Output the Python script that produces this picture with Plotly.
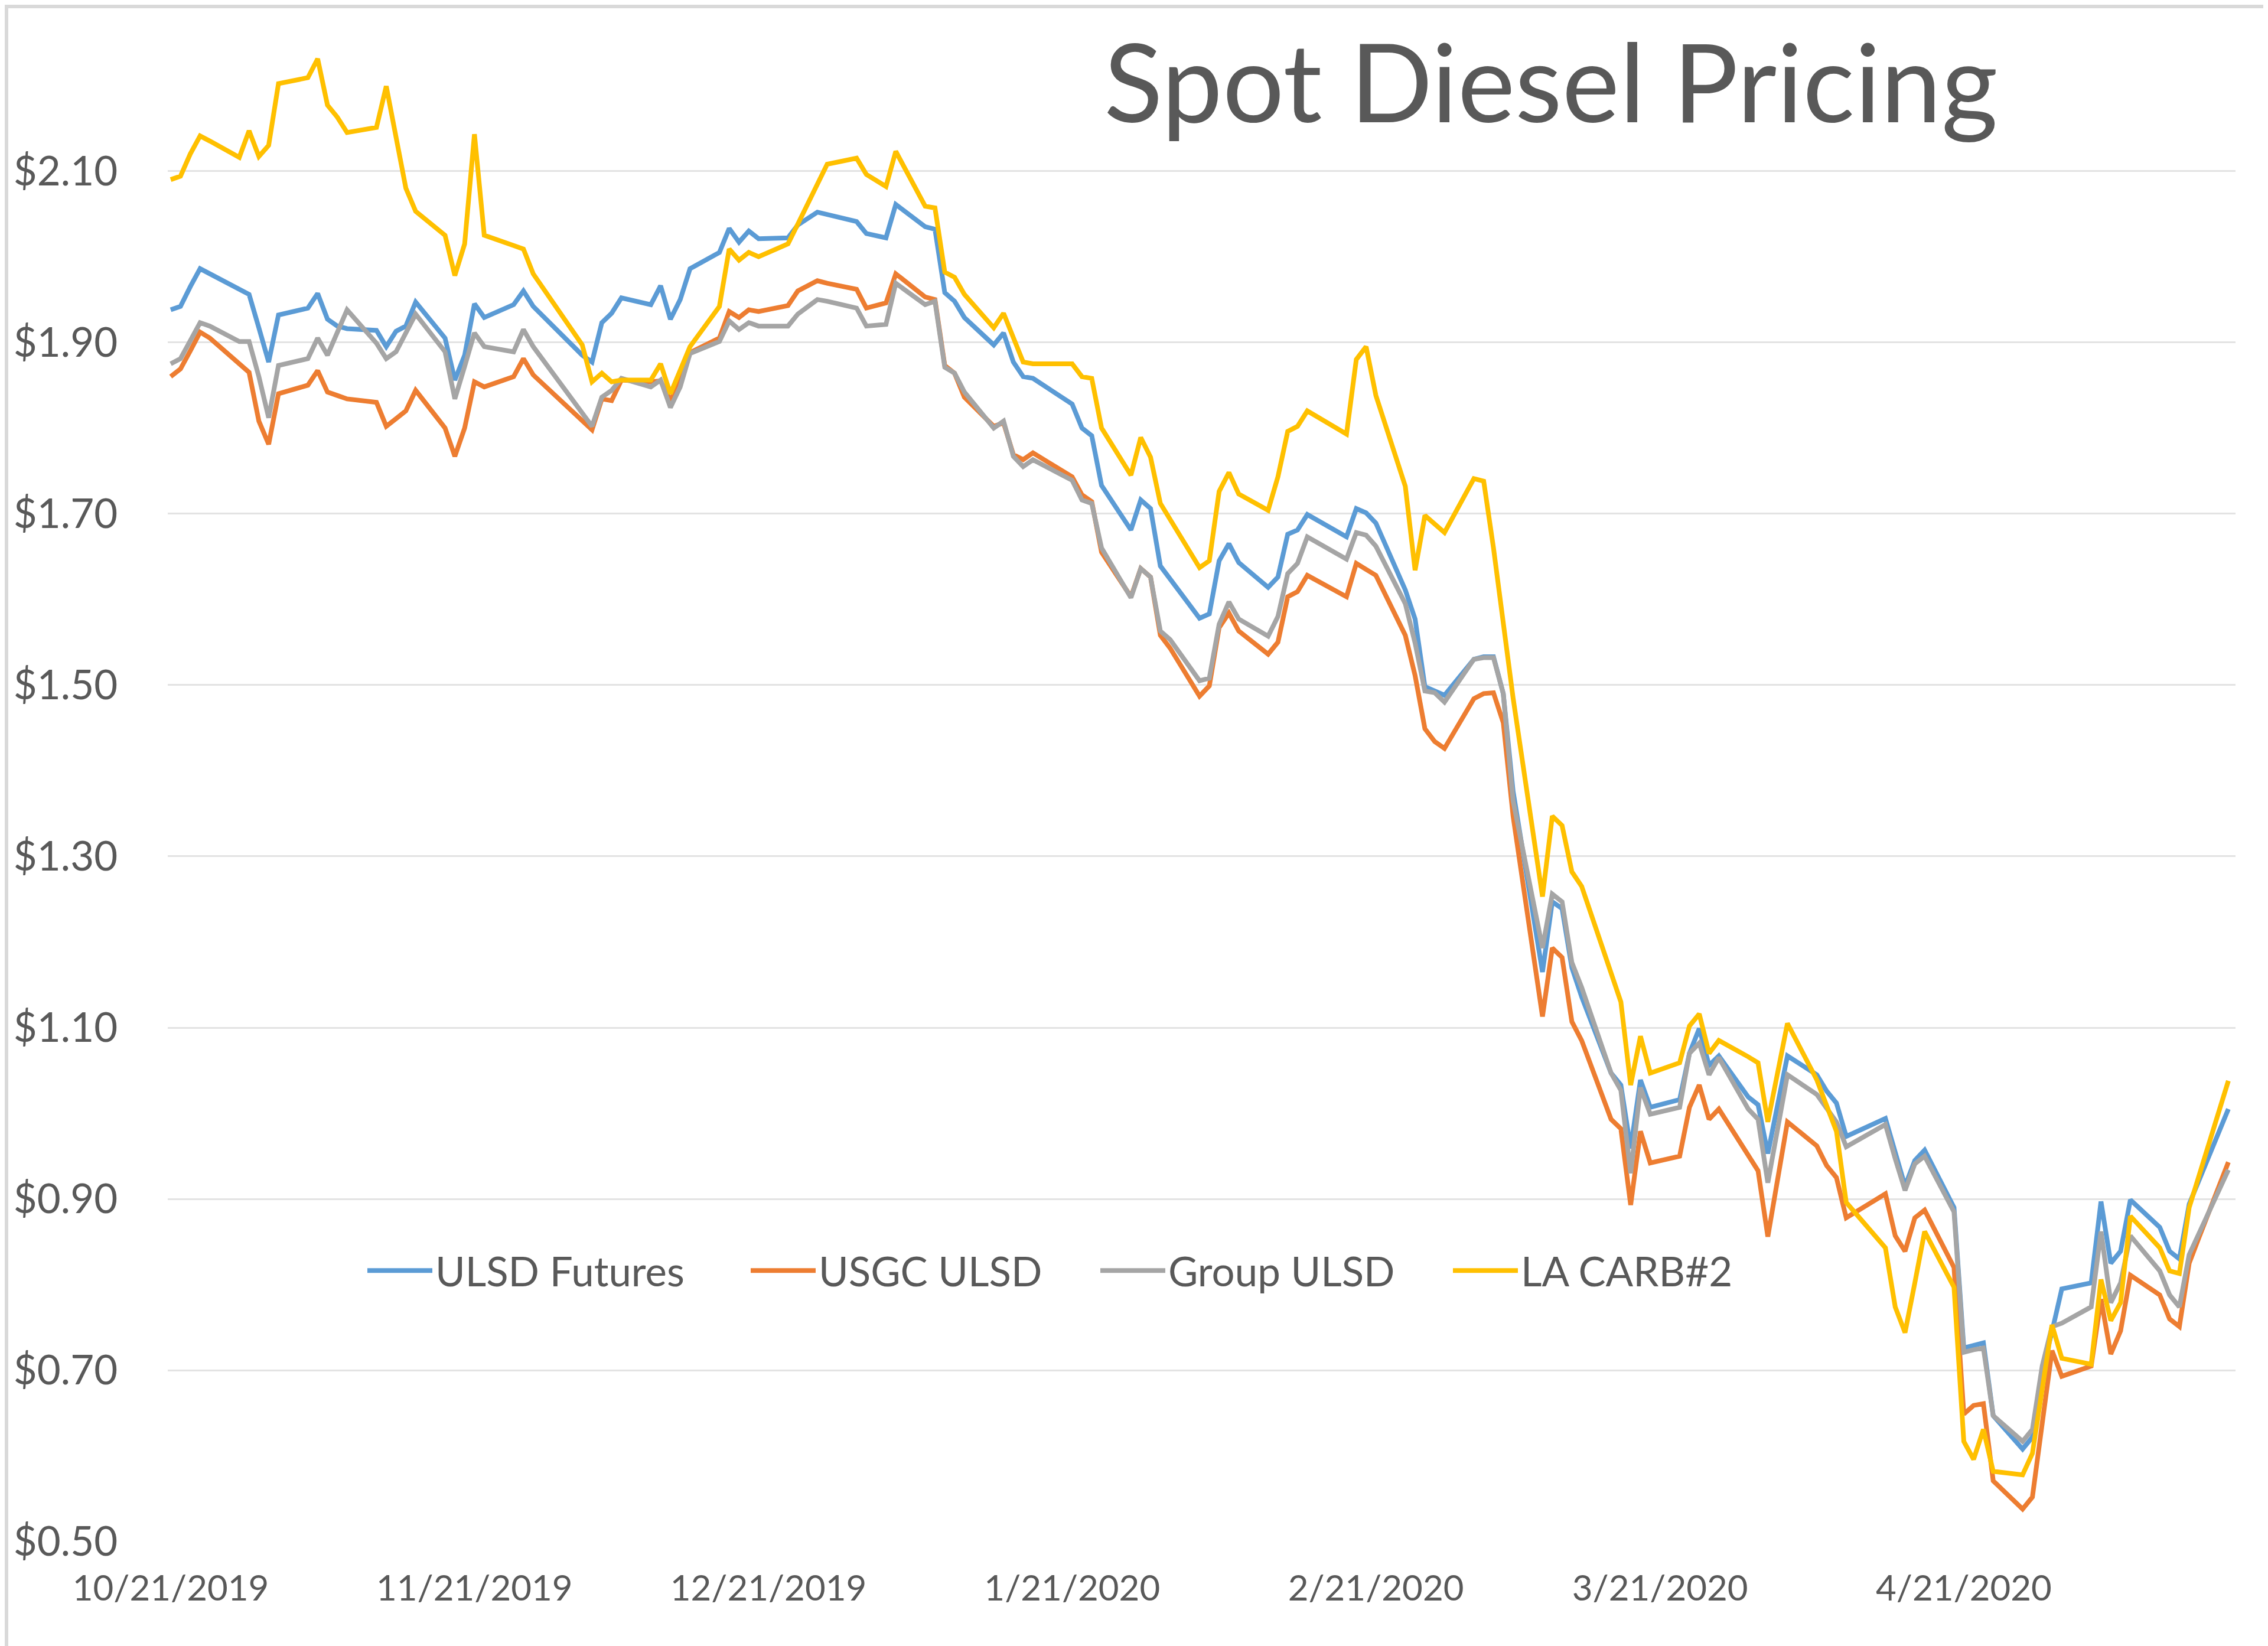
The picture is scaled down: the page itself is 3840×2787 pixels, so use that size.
import pandas as pd
import plotly.graph_objects as go

# Business days 10/21/2019 .. 5/18/2020 (weekly rows Mon..Fri; None = market holiday)
dates = pd.bdate_range("2019-10-21", "2020-05-18")

ulsd_futures_weeks = [
    [1.938, 1.942, 1.965, 1.986, 1.980],
    [1.962, 1.956, 1.917, 1.877, 1.932],
    [1.940, 1.957, 1.927, 1.919, 1.916],
    [1.914, 1.895, 1.913, 1.919, 1.947],
    [1.905, 1.856, 1.885, 1.945, 1.929],
    [1.944, 1.960, 1.942, None, 1.919],
    [1.885, 1.877, 1.923, 1.934, 1.952],
    [1.944, 1.966, 1.927, 1.950, 1.986],
    [2.005, 2.033, 2.017, 2.030, 2.021],
    [2.022, 2.037, None, 2.052, 2.049],
    [2.041, 2.027, None, 2.022, 2.061],
    [2.035, 2.032, 1.958, 1.948, 1.929],
    [1.897, 1.911, 1.877, 1.860, 1.858],
    [None, 1.828, 1.800, 1.791, 1.733],
    [1.681, 1.716, 1.706, 1.639, 1.624],
    [1.578, 1.583, 1.645, 1.665, 1.643],
    [1.614, 1.626, 1.676, 1.681, 1.699],
    [None, 1.673, 1.706, 1.701, 1.689],
    [1.611, 1.577, 1.498, 1.493, 1.488],
    [1.530, 1.533, 1.533, 1.490, 1.376],
    [1.165, 1.247, 1.239, 1.170, 1.136],
    [1.047, 1.033, 0.959, 1.039, 1.007],
    [1.016, 1.070, 1.099, 1.056, 1.067],
    [1.019, 1.010, 0.953, 1.010, 1.067],
    [1.045, 1.026, 1.012, 0.973, None],
    [0.994, 0.954, 0.915, 0.945, 0.957],
    [0.890, 0.726, 0.729, 0.732, 0.647],
    [0.608, 0.622, 0.700, 0.745, 0.795],
    [0.802, 0.897, 0.825, 0.839, 0.899],
    [0.867, 0.839, 0.830, 0.894, 0.922],
    [1.005],
]

usgc_ulsd_weeks = [
    [1.860, 1.869, 1.890, 1.912, 1.905],
    [1.875, 1.865, 1.808, 1.781, 1.840],
    [1.850, 1.867, 1.842, 1.838, 1.834],
    [1.830, 1.802, 1.811, 1.820, 1.844],
    [1.800, 1.767, 1.800, 1.854, 1.848],
    [1.860, 1.881, 1.862, None, 1.841],
    [1.809, 1.798, 1.834, 1.832, 1.856],
    [1.854, 1.855, 1.832, 1.855, 1.888],
    [1.905, 1.936, 1.929, 1.938, 1.936],
    [1.943, 1.960, None, 1.972, 1.969],
    [1.962, 1.940, None, 1.946, 1.980],
    [1.953, 1.950, 1.873, 1.864, 1.836],
    [1.802, 1.806, 1.769, 1.763, 1.771],
    [None, 1.743, 1.722, 1.714, 1.655],
    [1.603, 1.636, 1.626, 1.558, 1.543],
    [1.487, 1.499, 1.567, 1.584, 1.563],
    [1.536, 1.550, 1.603, 1.609, 1.628],
    [None, 1.603, 1.642, 1.635, 1.628],
    [1.558, 1.511, 1.449, 1.434, 1.426],
    [1.484, 1.490, 1.491, 1.456, 1.347],
    [1.113, 1.193, 1.182, 1.107, 1.085],
    [0.993, 0.982, 0.893, 0.979, 0.942],
    [0.950, 1.007, 1.033, 0.993, 1.005],
    [0.951, 0.933, 0.856, 0.923, 0.990],
    [0.962, 0.939, 0.925, 0.878, None],
    [0.906, 0.857, 0.839, 0.878, 0.887],
    [0.820, 0.649, 0.659, 0.661, 0.571],
    [0.538, 0.552, 0.638, 0.723, 0.693],
    [0.705, 0.783, 0.719, 0.746, 0.811],
    [0.788, 0.760, 0.751, 0.825, 0.855],
    [0.943],
]

group_ulsd_weeks = [
    [1.875, 1.881, 1.902, 1.923, 1.919],
    [1.901, 1.901, 1.860, 1.812, 1.873],
    [1.881, 1.905, 1.885, 1.911, 1.938],
    [1.899, 1.881, 1.889, 1.911, 1.933],
    [1.889, 1.834, 1.872, 1.911, 1.895],
    [1.889, 1.915, 1.895, None, 1.864],
    [1.818, 1.802, 1.836, 1.844, 1.858],
    [1.848, 1.856, 1.824, 1.848, 1.887],
    [1.901, 1.925, 1.915, 1.923, 1.919],
    [1.919, 1.933, None, 1.950, 1.948],
    [1.940, 1.919, None, 1.921, 1.969],
    [1.944, 1.948, 1.871, 1.864, 1.842],
    [1.800, 1.808, 1.767, 1.755, 1.763],
    [None, 1.739, 1.716, 1.712, 1.660],
    [1.602, 1.636, 1.626, 1.563, 1.553],
    [1.505, 1.508, 1.571, 1.597, 1.577],
    [1.557, 1.580, 1.630, 1.642, 1.673],
    [None, 1.647, 1.678, 1.675, 1.662],
    [1.595, 1.549, 1.493, 1.491, 1.480],
    [1.530, 1.532, 1.532, 1.490, 1.365],
    [1.193, 1.256, 1.247, 1.176, 1.147],
    [1.047, 1.027, 0.930, 1.030, 0.999],
    [1.007, 1.070, 1.082, 1.045, 1.065],
    [1.005, 0.993, 0.919, 0.982, 1.045],
    [1.022, 1.006, 0.990, 0.961, None],
    [0.987, 0.947, 0.910, 0.941, 0.950],
    [0.885, 0.721, 0.724, 0.726, 0.647],
    [0.617, 0.631, 0.705, 0.751, 0.755],
    [0.774, 0.862, 0.779, 0.802, 0.857],
    [0.816, 0.788, 0.774, 0.835, 0.860],
    [0.934],
]

la_carb_weeks = [
    [2.090, 2.094, 2.120, 2.141, 2.135],
    [2.116, 2.147, 2.117, 2.130, 2.202],
    [2.209, 2.231, 2.177, 2.163, 2.145],
    [2.151, 2.199, 2.140, 2.080, 2.053],
    [2.025, 1.978, 2.015, 2.143, 2.025],
    [2.013, 2.009, 1.980, None, 1.946],
    [1.897, 1.854, 1.864, 1.854, 1.856],
    [1.856, 1.875, 1.840, 1.867, 1.895],
    [1.942, 2.009, 1.996, 2.005, 2.000],
    [2.015, 2.038, None, 2.085, 2.108],
    [2.115, 2.096, None, 2.082, 2.123],
    [2.059, 2.057, 1.982, 1.976, 1.956],
    [1.917, 1.934, 1.905, 1.877, 1.875],
    [None, 1.875, 1.860, 1.858, 1.800],
    [1.745, 1.789, 1.766, 1.712, 1.693],
    [1.637, 1.645, 1.726, 1.748, 1.723],
    [1.704, 1.743, 1.796, 1.802, 1.820],
    [None, 1.793, 1.880, 1.895, 1.838],
    [1.732, 1.634, 1.698, 1.688, 1.678],
    [1.741, 1.738, 1.660, 1.572, 1.485],
    [1.253, 1.347, 1.336, 1.282, 1.265],
    [1.164, 1.130, 1.033, 1.090, 1.047],
    [1.059, 1.102, 1.116, 1.070, 1.085],
    [1.066, 1.059, 0.990, 1.048, 1.105],
    [1.039, 1.009, 0.979, 0.896, None],
    [0.843, 0.774, 0.744, 0.802, 0.862],
    [0.797, 0.617, 0.596, 0.631, 0.582],
    [0.578, 0.603, 0.678, 0.753, 0.714],
    [0.707, 0.806, 0.758, 0.779, 0.880],
    [0.843, 0.816, 0.813, 0.890, 0.927],
    [1.038],
]

series_names = ["ULSD Futures", "USGC ULSD", "Group ULSD", "LA CARB#2"]
series_colors = ["#5B9BD5", "#ED7D31", "#A5A5A5", "#FFC000"]
series_weeks = [ulsd_futures_weeks, usgc_ulsd_weeks, group_ulsd_weeks, la_carb_weeks]
legend_widths = [524, 467, 472, 420]

tick_dates = ["2019-10-21", "2019-11-21", "2019-12-21", "2020-01-21",
              "2020-02-21", "2020-03-21", "2020-04-21"]
tick_labels = ["10/21/2019", "11/21/2019", "12/21/2019", "1/21/2020",
               "2/21/2020", "3/21/2020", "4/21/2020"]
y_ticks = [0.5, 0.7, 0.9, 1.1, 1.3, 1.5, 1.7, 1.9, 2.1]

W, H = 3840, 2787
ML, MR, MT, MB = 276, 63, 4, 184
TXT = "#595959"
FONT = "Lato"

fig = go.Figure()
for name, color, weeks, lw in zip(series_names, series_colors, series_weeks, legend_widths):
    vals = [v for wk in weeks for v in wk]
    fig.add_trace(go.Scatter(
        x=dates, y=vals, name=name, mode="lines", connectgaps=True,
        line=dict(color=color, width=8, shape="linear"),
        legendwidth=lw,
    ))

fig.update_layout(
    width=W, height=H,
    margin=dict(l=ML, r=MR, t=MT, b=MB, pad=0),
    paper_bgcolor="white", plot_bgcolor="white",
    font=dict(family=FONT, color=TXT, size=68),
    showlegend=True,
    legend=dict(orientation="h", x=(624 - ML - 15) / (W - ML - MR), xanchor="left",
                y=0.1768, yanchor="middle",
                bgcolor="rgba(0,0,0,0)", font=dict(family=FONT, size=69, color=TXT),
                itemwidth=110, tracegroupgap=0, entrywidthmode="pixels"),
)

fig.update_xaxes(
    type="date",
    range=["2019-10-20 16:46", "2020-05-18 17:30"],
    tickmode="array", tickvals=tick_dates, ticktext=tick_labels,
    showgrid=False, zeroline=False, showline=False,
    ticks="outside", ticklen=26, tickcolor="rgba(0,0,0,0)",
    tickfont=dict(family=FONT, size=60, color=TXT),
)
fig.update_yaxes(
    range=[0.4995, 2.2914],
    tickmode="array", tickvals=y_ticks, tickformat="$.2f",
    showgrid=True, gridcolor="#E3E3E3", gridwidth=3,
    zeroline=False, showline=False,
    ticks="outside", ticklen=70, tickcolor="rgba(0,0,0,0)",
    tickfont=dict(family=FONT, size=69, color=TXT),
)

fig.add_annotation(
    text="Spot Diesel Pricing", xref="paper", yref="paper",
    x=0.669, y=0.9523, xanchor="center", yanchor="middle", showarrow=False,
    font=dict(family=FONT, size=184, color=TXT),
)

# chart-area border
pw, ph = W - ML - MR, H - MT - MB
fig.add_shape(type="rect", xref="paper", yref="paper",
              x0=(3 - ML) / pw, x1=(W - 3 - ML) / pw,
              y0=(H - MB - (H - 3)) / ph, y1=(H - MB - 3) / ph,
              line=dict(color="#D9D9D9", width=6), fillcolor="rgba(0,0,0,0)", layer="below")

fig.write_html("out.html")
